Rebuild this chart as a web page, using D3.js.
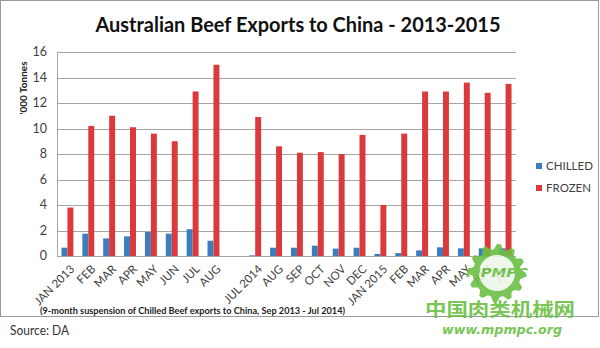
<!DOCTYPE html>
<html><head><meta charset="utf-8">
<script src="https://cdn.jsdelivr.net/npm/d3@7"></script>
<style>body{margin:0;background:#fff;}svg{display:block;}</style>
</head><body>
<svg id="c" width="600" height="348"></svg>
<script>
const categories = ["JAN 2013","FEB","MAR","APR","MAY","JUN","JUL","AUG","","JUL 2014","AUG","SEP","OCT","NOV","DEC","JAN 2015","FEB","MAR","APR","MAY","JUN","JUL"];
const chilled = [0.65,1.75,1.38,1.54,1.88,1.75,2.1,1.2,null,0.05,0.65,0.65,0.81,0.58,0.65,0.16,0.23,0.44,0.68,0.6,0.6,0.6];
const frozen  = [3.8,10.2,11.0,10.1,9.6,9.0,12.9,15.0,null,10.9,8.6,8.1,8.15,8.0,9.5,4.0,9.6,12.9,12.9,13.6,12.8,13.5];
const seriesNames = ["CHILLED","FROZEN"];
const seriesColors = ["#3b7dbd","#db3a3c"];
const yTicks = [0,2,4,6,8,10,12,14,16];

(function(){
const svg = d3.select("#c");
const font = "Lato, 'Open Sans', sans-serif";

// outer frame
svg.append("rect").attr("x",0.5).attr("y",0.5).attr("width",598).attr("height",316)
  .attr("fill","#fff").attr("stroke","#9a9a9a").attr("stroke-width",1);

const pL = 57, pR = 516, pT = 52, pB = 256;
const x = d3.scaleBand().domain(d3.range(categories.length)).range([pL,pR]).padding(0);
const xs = d3.scaleBand().domain(seriesNames).range([0,x.bandwidth()]).paddingInner(0).paddingOuter(0.75);
const y = d3.scaleLinear().domain([0,16]).range([pB,pT]);

// gridlines
svg.append("g").selectAll("line").data(yTicks).join("line")
  .attr("x1",pL).attr("x2",pR)
  .attr("y1",d=>Math.round(y(d))+0.5).attr("y2",d=>Math.round(y(d))+0.5)
  .attr("stroke","#a6a6a6").attr("stroke-width",1);
// left axis line
svg.append("line").attr("x1",pL+0.5).attr("x2",pL+0.5).attr("y1",pT).attr("y2",pB)
  .attr("stroke","#a6a6a6");

// y tick labels
svg.append("g").selectAll("text").data(yTicks).join("text")
  .attr("x",47).attr("y",d=>y(d)).attr("dy","0.35em").attr("text-anchor","end")
  .attr("font-family",font).attr("font-size",12.5).attr("fill","#404040").text(d=>d);

// y title
svg.append("text").attr("transform","translate(27,88) rotate(-90)")
  .attr("text-anchor","middle").attr("font-family",font).attr("font-weight","bold")
  .attr("font-size",10).attr("fill","#222").text("'000 Tonnes");

// bars
const series = [chilled, frozen];
series.forEach((vals,si)=>{
  svg.append("g").selectAll("rect").data(vals.map((v,i)=>({v,i})).filter(d=>d.v!=null)).join("rect")
    .attr("x",d=>x(d.i)+xs(seriesNames[si]))
    .attr("width",xs.bandwidth())
    .attr("y",d=>y(d.v)).attr("height",d=>y(0)-y(d.v))
    .attr("fill",seriesColors[si]);
});

// x labels
svg.append("g").selectAll("text").data(categories.map((c,i)=>({c,i}))).join("text")
  .attr("transform",d=>`translate(${x(d.i)+x.bandwidth()/2+5},${pB+11}) rotate(-45)`)
  .attr("text-anchor","end").attr("dy","0.35em")
  .attr("font-family",font).attr("font-size",11.5).attr("fill","#404040").text(d=>d.c);

// legend
seriesNames.forEach((n,i)=>{
  const ly = 166 + i*22;
  svg.append("rect").attr("x",536).attr("y",ly-3).attr("width",6).attr("height",6).attr("fill",seriesColors[i]);
  svg.append("text").attr("x",546).attr("y",ly).attr("dy","0.35em")
    .attr("font-family",font).attr("font-size",11.5).attr("fill","#404040").text(n);
});

// title
svg.append("text").attr("x",298).attr("y",32).attr("text-anchor","middle")
  .attr("font-family",font).attr("font-weight","bold").attr("font-size",21)
  .attr("fill","#111").attr("textLength",405).attr("lengthAdjust","spacingAndGlyphs")
  .text("Australian Beef Exports to China - 2013-2015");

// annotation
svg.append("text").attr("x",40).attr("y",314)
  .attr("font-family",font).attr("font-weight","bold").attr("font-size",10)
  .attr("fill","#222").attr("textLength",305).attr("lengthAdjust","spacingAndGlyphs")
  .text("(9-month suspension of Chilled Beef exports to China, Sep 2013 - Jul 2014)");

// source
svg.append("text").attr("x",10).attr("y",335)
  .attr("font-family",font).attr("font-size",14).attr("fill","#333")
  .attr("textLength",59).attr("lengthAdjust","spacingAndGlyphs").text("Source: DA");

// watermark
const wm = svg.append("g").attr("opacity",0.9);
const gx = 497, gy = 273;
const teeth = 12;
const gearPts = [];
for (let k=0;k<teeth*4;k++){
  const a = k/(teeth*4)*2*Math.PI;
  const r = (k%4<2) ? 29 : 24;
  gearPts.push([gx+r*Math.cos(a), gy+r*Math.sin(a)]);
}
wm.append("path").attr("d",d3.line()(gearPts)+"Z").attr("fill","#6cbf45");
wm.append("circle").attr("cx",gx).attr("cy",gy).attr("r",18).attr("fill","#eef6e8");
wm.append("text").attr("x",gx).attr("y",gy+4).attr("text-anchor","middle")
  .attr("font-family","'DejaVu Sans', sans-serif").attr("font-style","italic").attr("font-weight","bold")
  .attr("font-size",12).attr("fill","#6cbf45").attr("textLength",62).attr("lengthAdjust","spacingAndGlyphs").text("MPMPC");
wm.append("text").attr("x",500).attr("y",316).attr("text-anchor","middle")
  .attr("font-family","'Noto Sans CJK SC', sans-serif").attr("font-weight","bold")
  .attr("font-size",18).attr("fill","#6cbf45").attr("textLength",150).attr("lengthAdjust","spacingAndGlyphs")
  .text("中国肉类机械网");
wm.append("text").attr("x",502).attr("y",334).attr("text-anchor","middle")
  .attr("font-family","'DejaVu Sans', sans-serif").attr("font-style","italic").attr("font-weight","bold")
  .attr("font-size",12).attr("fill","#6cbf45").attr("textLength",120).attr("lengthAdjust","spacingAndGlyphs")
  .text("www.mpmpc.org");
})();
</script>
</body></html>
